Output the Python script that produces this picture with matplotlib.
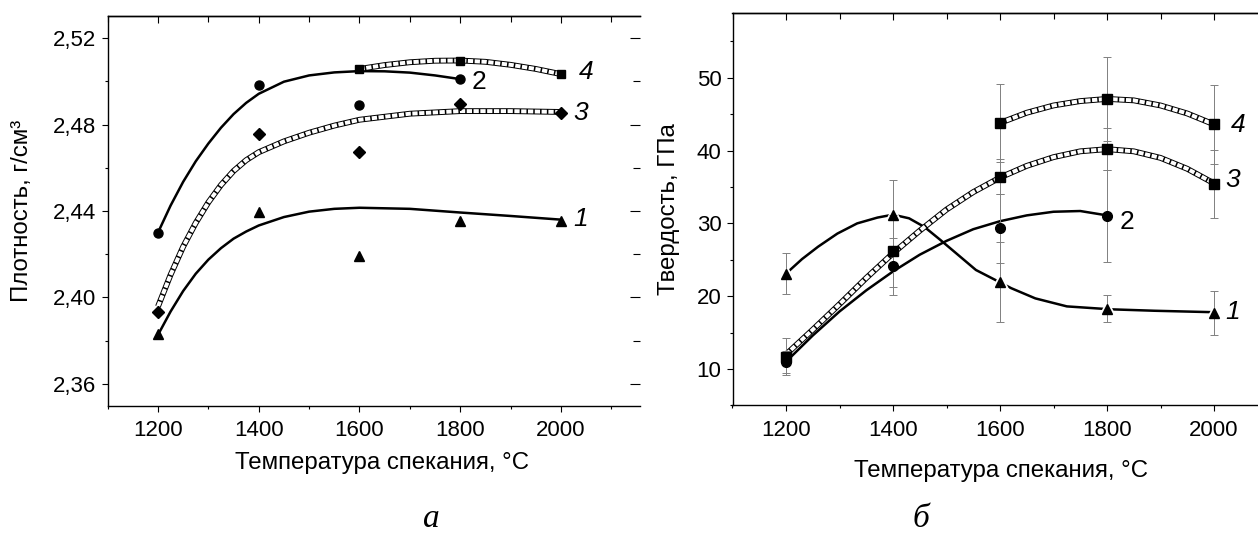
import matplotlib

matplotlib.use("Agg")

import matplotlib.pyplot as plt
from matplotlib.ticker import MultipleLocator, FuncFormatter

plt.rcParams["font.family"] = ["Liberation Sans", "DejaVu Sans"]
plt.rcParams["lines.scale_dashes"] = False

W, H = 1258, 533

# measured points
TEMPS = [1200, 1400, 1600, 1800, 2000]
TEMPS_2 = [1200, 1400, 1600, 1800]
TEMPS_4 = [1600, 1800, 2000]

dens_1 = [2.383, 2.4395, 2.419, 2.4355, 2.4355]
dens_2 = [2.430, 2.4985, 2.489, 2.501]
dens_3 = [2.3935, 2.4758, 2.4675, 2.4897, 2.4851]
dens_4 = [2.5057, 2.5096, 2.5033]

hard_1 = [23.1, 31.2, 21.9, 18.3, 17.7]
hard_1_err = [2.8, 4.8, 5.5, 1.8, 3.0]
hard_2 = [11.0, 24.1, 29.3, 31.0]
hard_2_err = [1.5, 3.9, 4.8, 6.3]
hard_3 = [11.7, 26.2, 36.4, 40.2, 35.4]
hard_3_err = [2.5, 5.0, 2.4, 2.9, 4.7]
hard_4 = [43.8, 47.1, 43.6]
hard_4_err = [5.4, 5.8, 5.4]

# fitted curves
fit_d1_t = [1200, 1225, 1250, 1275, 1300, 1325, 1350, 1375, 1400, 1450, 1500, 1550, 1600, 1700, 1800, 1900, 2000]
fit_d1_v = [2.3827, 2.3935, 2.4030, 2.4110, 2.4175, 2.4228, 2.4272, 2.4305, 2.4333, 2.4372,
            2.4397, 2.4410, 2.4415, 2.4410, 2.4393, 2.4377, 2.4360]
fit_d2_t = [1200, 1225, 1250, 1275, 1300, 1325, 1350, 1375, 1400, 1450, 1500, 1550, 1600, 1650, 1700, 1750, 1800]
fit_d2_v = [2.430, 2.4425, 2.4535, 2.4630, 2.4712, 2.4785, 2.4848, 2.4900, 2.4942, 2.4998,
            2.5027, 2.5041, 2.5047, 2.5046, 2.5040, 2.5027, 2.5010]
fit_d3_t = [1200, 1225, 1250, 1275, 1300, 1325, 1350, 1375, 1400, 1450, 1500, 1550, 1600, 1700, 1800, 1900, 2000]
fit_d3_v = [2.3958, 2.4105, 2.4235, 2.4345, 2.4440, 2.4520, 2.4585, 2.4635, 2.4672, 2.4722,
            2.4762, 2.4795, 2.4822, 2.4850, 2.4862, 2.4862, 2.4858]
fit_d4_t = [1600, 1650, 1700, 1750, 1800, 1850, 1900, 1950, 2000]
fit_d4_v = [2.5057, 2.5075, 2.5088, 2.5095, 2.5096, 2.5090, 2.5076, 2.5057, 2.5033]

fit_h1_t = [1200, 1230, 1260, 1296, 1333, 1371, 1400, 1430, 1459, 1489, 1518, 1555, 1600, 1621, 1666, 1725, 1806, 1889, 2000]
fit_h1_v = [23.1, 25.1, 26.8, 28.6, 30.0, 30.8, 31.2, 30.7, 29.5, 27.7, 25.9, 23.6, 21.9, 21.1, 19.7, 18.6, 18.2, 18.0, 17.8]
fit_h2_t = [1200, 1250, 1300, 1350, 1400, 1450, 1500, 1550, 1600, 1650, 1700, 1750, 1800]
fit_h2_v = [11.0, 14.6, 17.9, 20.8, 23.4, 25.7, 27.6, 29.2, 30.3, 31.1, 31.6, 31.7, 31.1]
fit_h3_t = [1200, 1250, 1300, 1350, 1400, 1450, 1500, 1550, 1600, 1650, 1700, 1750, 1800, 1850, 1900, 1950, 2000]
fit_h3_v = [12.0, 15.4, 18.9, 22.5, 25.9, 29.0, 31.9, 34.3, 36.3, 37.9, 39.1, 39.9, 40.2, 39.9, 39.0, 37.5, 35.5]
fit_h4_t = [1600, 1650, 1700, 1750, 1800, 1850, 1900, 1950, 2000]
fit_h4_v = [43.8, 45.2, 46.2, 46.8, 47.1, 46.9, 46.2, 45.1, 43.6]

XLABEL = "Температура спекания, °C"
YLABEL_L = "Плотность, г/см³"
YLABEL_R = "Твердость, ГПа"

TICK_FS = 16
LABEL_FS = 17.3
NUM_FS = 19


def px_axes(fig, left, right, top, bottom):
    return fig.add_axes([left / W, (H - bottom) / H, (right - left) / W, (bottom - top) / H])


def style_axis(ax, ystep, yminor, fmt, hide_right_spine=False):
    ax.xaxis.set_major_locator(MultipleLocator(200))
    ax.xaxis.set_minor_locator(MultipleLocator(100))
    ax.yaxis.set_major_locator(MultipleLocator(ystep))
    ax.yaxis.set_minor_locator(MultipleLocator(yminor))
    ax.yaxis.set_major_formatter(FuncFormatter(fmt))
    ax.tick_params(which="major", direction="out", length=4.5, width=0.8, labelsize=TICK_FS, pad=3.5)
    ax.tick_params(which="minor", direction="out", length=2.5, width=0.8)
    ax.tick_params(axis="x", which="major", pad=6)
    for spine in ax.spines.values():
        spine.set_linewidth(1.0)
    if hide_right_spine:
        ax.spines["right"].set_visible(False)

    top = ax.secondary_xaxis("top")
    top.xaxis.set_major_locator(MultipleLocator(200))
    top.xaxis.set_minor_locator(MultipleLocator(100))
    top.tick_params(which="major", direction="in", length=5, width=0.8, labeltop=False)
    top.tick_params(which="minor", direction="in", length=4, width=0.8)
    top.spines["top"].set_linewidth(1.0)

    right = ax.secondary_yaxis("right")
    right.yaxis.set_major_locator(MultipleLocator(ystep))
    right.yaxis.set_minor_locator(MultipleLocator(yminor))
    right.tick_params(which="major", direction="in", length=7, width=0.8, labelright=False)
    right.tick_params(which="minor", direction="in", length=5, width=0.8)
    right.spines["right"].set_linewidth(1.0)
    if hide_right_spine:
        right.spines["right"].set_visible(False)


def fit_line(ax, t, v):
    ax.plot(t, v, color="black", lw=1.8, solid_joinstyle="round", zorder=2)


def chain(ax, t, v):
    # chain of small open squares along the fitted curve
    ax.plot(t, v, color="black", lw=4.2, solid_capstyle="butt", solid_joinstyle="round", zorder=2)
    ax.plot(t, v, color="white", lw=2.8, dashes=(3.8, 1.1), dash_capstyle="butt", zorder=2.1)


fig = plt.figure(figsize=(W / 100, H / 100), dpi=100, facecolor="white")

# ---------- panel a: density ----------
ax1 = px_axes(fig, 107.6, 640.1, 16.4, 405.6)
ax1.set_xlim(1100, 2157)
ax1.set_ylim(2.35, 2.53)
style_axis(ax1, 0.04, 0.02, lambda v, p: f"{v:.2f}".replace(".", ","), hide_right_spine=True)

fit_line(ax1, fit_d1_t, fit_d1_v)
fit_line(ax1, fit_d2_t, fit_d2_v)
chain(ax1, fit_d3_t, fit_d3_v)
chain(ax1, fit_d4_t, fit_d4_v)

ax1.plot(TEMPS, dens_1, "^", color="black", ms=7, zorder=4)
ax1.plot(TEMPS_2, dens_2, "o", color="black", ms=6.5, zorder=4)
ax1.plot(TEMPS, dens_3, "D", color="black", ms=6, zorder=4)
ax1.plot(TEMPS_4, dens_4, "s", color="black", ms=6, zorder=4)

ax1.text(2036, 2.5043, "4", fontsize=NUM_FS, style="italic", ha="left", va="center")
ax1.text(1822, 2.4995, "2", fontsize=NUM_FS, ha="left", va="center")
ax1.text(2025, 2.4852, "3", fontsize=NUM_FS, style="italic", ha="left", va="center")
ax1.text(2025, 2.4365, "1", fontsize=NUM_FS, style="italic", ha="left", va="center")

ax1.set_xlabel(XLABEL, fontsize=LABEL_FS)
ax1.xaxis.set_label_coords((382 - 107.6) / 532.5, (405.6 - 463) / 389.2)
ax1.xaxis.label.set_va("center")
ax1.set_ylabel(YLABEL_L, fontsize=LABEL_FS)
ax1.yaxis.set_label_coords((22 - 107.6) / 532.5, 0.5)
ax1.yaxis.label.set_va("center")

# ---------- panel b: hardness ----------
ax2 = px_axes(fig, 732.5, 1267.5, 13, 405.4)
ax2.set_xlim(1100, 2100)
ax2.set_ylim(5, 58.9)
style_axis(ax2, 10, 5, lambda v, p: f"{v:.0f}")

fit_line(ax2, fit_h1_t, fit_h1_v)
fit_line(ax2, fit_h2_t, fit_h2_v)
chain(ax2, fit_h3_t, fit_h3_v)
chain(ax2, fit_h4_t, fit_h4_v)

# white halo gives the gap between line 1 and its symbols
ax2.plot(TEMPS, hard_1, "^", color="white", ms=13, zorder=2.5)

err_kw = dict(fmt="none", ecolor="#808080", elinewidth=0.7, capsize=3, capthick=0.7, zorder=3)
ax2.errorbar(TEMPS, hard_1, yerr=hard_1_err, **err_kw)
ax2.errorbar(TEMPS_2, hard_2, yerr=hard_2_err, **err_kw)
ax2.errorbar(TEMPS, hard_3, yerr=hard_3_err, **err_kw)
ax2.errorbar(TEMPS_4, hard_4, yerr=hard_4_err, **err_kw)

ax2.plot(TEMPS, hard_1, "^", color="black", ms=7.5, zorder=4)
ax2.plot(TEMPS_2, hard_2, "o", color="black", ms=7, zorder=4)
ax2.plot(TEMPS, hard_3, "s", color="black", ms=6.5, zorder=4)
ax2.plot(TEMPS_4, hard_4, "s", color="black", ms=6.5, zorder=4)

ax2.text(2032, 43.5, "4", fontsize=NUM_FS, style="italic", ha="left", va="center")
ax2.text(2021, 36.0, "3", fontsize=NUM_FS, style="italic", ha="left", va="center")
ax2.text(1824, 30.2, "2", fontsize=NUM_FS, ha="left", va="center")
ax2.text(2021, 17.8, "1", fontsize=NUM_FS, style="italic", ha="left", va="center")

ax2.set_xlabel(XLABEL, fontsize=LABEL_FS)
ax2.xaxis.set_label_coords((1001 - 732.5) / 535, (405.4 - 471) / 392.4)
ax2.xaxis.label.set_va("center")
ax2.set_ylabel(YLABEL_R, fontsize=LABEL_FS)
ax2.yaxis.set_label_coords((669 - 732.5) / 535, 0.5)
ax2.yaxis.label.set_va("center")

# panel letters
fig.text(431 / W, (H - 527) / H, "а", fontsize=24, family="Liberation Serif", style="italic",
         ha="center", va="baseline")
fig.text(921 / W, (H - 527) / H, "б", fontsize=24, family="Liberation Serif", style="italic",
         ha="center", va="baseline")

fig.savefig("out.png", dpi=100)
plt.close(fig)
